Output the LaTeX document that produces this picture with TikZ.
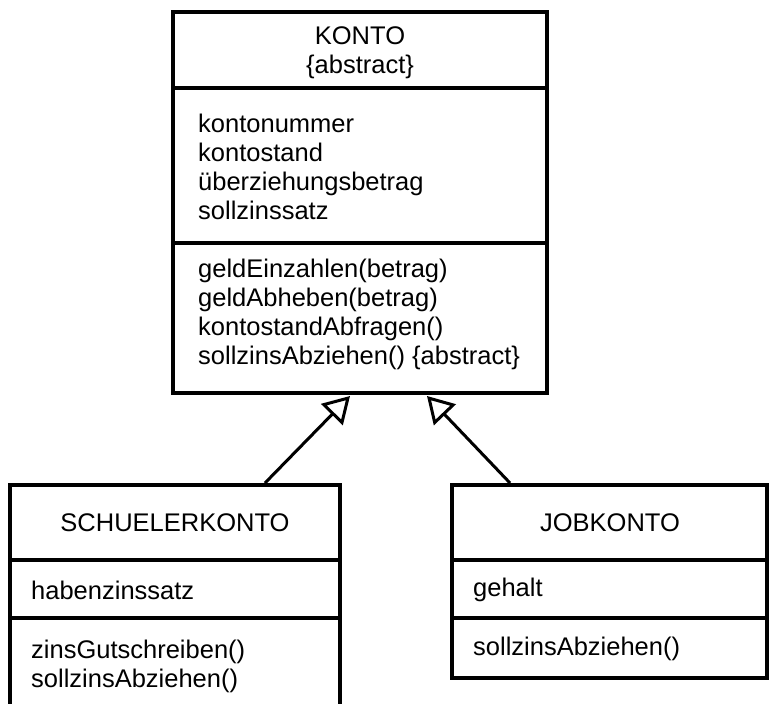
\documentclass[tikz,border=0pt]{standalone}
\usepackage{fontspec}
\setmainfont{Liberation Sans}
\usetikzlibrary{arrows.meta}

\tikzset{
  klasse/.style={draw=black, line width=4pt, inner sep=0pt},
  trenner/.style={draw=black, line width=4pt},
  eintrag/.style={align=left, anchor=west, inner sep=0pt},
  erbt/.style={line width=3pt, -{Triangle[open, length=26pt, width=30pt, line width=3pt]}}
}

\begin{document}
\begin{tikzpicture}[x=1pt, y=-1pt, font=\fontsize{25.5}{29}\selectfont]

    \clip (0,0) rectangle (772,704);

    % oberklasse
    \node[klasse, minimum width=374pt, minimum height=381pt] (konto) at (360,202.5) {};
    \draw[trenner] (konto.west |- 0,88) -- (konto.east |- 0,88);
    \draw[trenner] (konto.west |- 0,243) -- (konto.east |- 0,243);

    \node[align=center, inner sep=0pt] (kontoname) at (360,53) {KONTO\\\{abstract\}};
    \node[eintrag] (kontoattr) at (198,167)
      {kontonummer\\kontostand\\überziehungsbetrag\\sollzinssatz};
    \node[eintrag] (kontometh) at (198,314)
      {geldEinzahlen(betrag)\\geldAbheben(betrag)\\kontostandAbfragen()\\sollzinsAbziehen() \{abstract\}};

    % unterklassen
    \node[klasse, minimum width=330pt, minimum height=250pt] (schueler) at (175,610) {};
    \draw[trenner] (schueler.west |- 0,560) -- (schueler.east |- 0,560);
    \draw[trenner] (schueler.west |- 0,618) -- (schueler.east |- 0,618);

    \node[] (schuelername) at (175,523) {SCHUELERKONTO};
    \node[eintrag] (schuelerattr) at (31,590) {habenzinssatz};
    \node[eintrag] (schuelermeth) at (31,666) {zinsGutschreiben()\\sollzinsAbziehen()};

    \node[klasse, minimum width=315pt, minimum height=193pt] (job) at (609.5,581.5) {};
    \draw[trenner] (job.west |- 0,560) -- (job.east |- 0,560);
    \draw[trenner] (job.west |- 0,618) -- (job.east |- 0,618);

    \node[] (jobname) at (610,523) {JOBKONTO};
    \node[eintrag] (jobattr) at (473,590) {gehalt};
    \node[eintrag] (jobmeth) at (473,649) {sollzinsAbziehen()};

    % vererbung
    \coordinate (fussL) at (265,485);
    \coordinate (fussR) at (510,485);
    \coordinate (spitzeL) at (350,396);
    \coordinate (spitzeR) at (427,396);

      \draw[erbt] (schueler.north -| fussL) -- (spitzeL);
      \draw[erbt] (job.north -| fussR) -- (spitzeR);
  \end{tikzpicture}
\end{document}
